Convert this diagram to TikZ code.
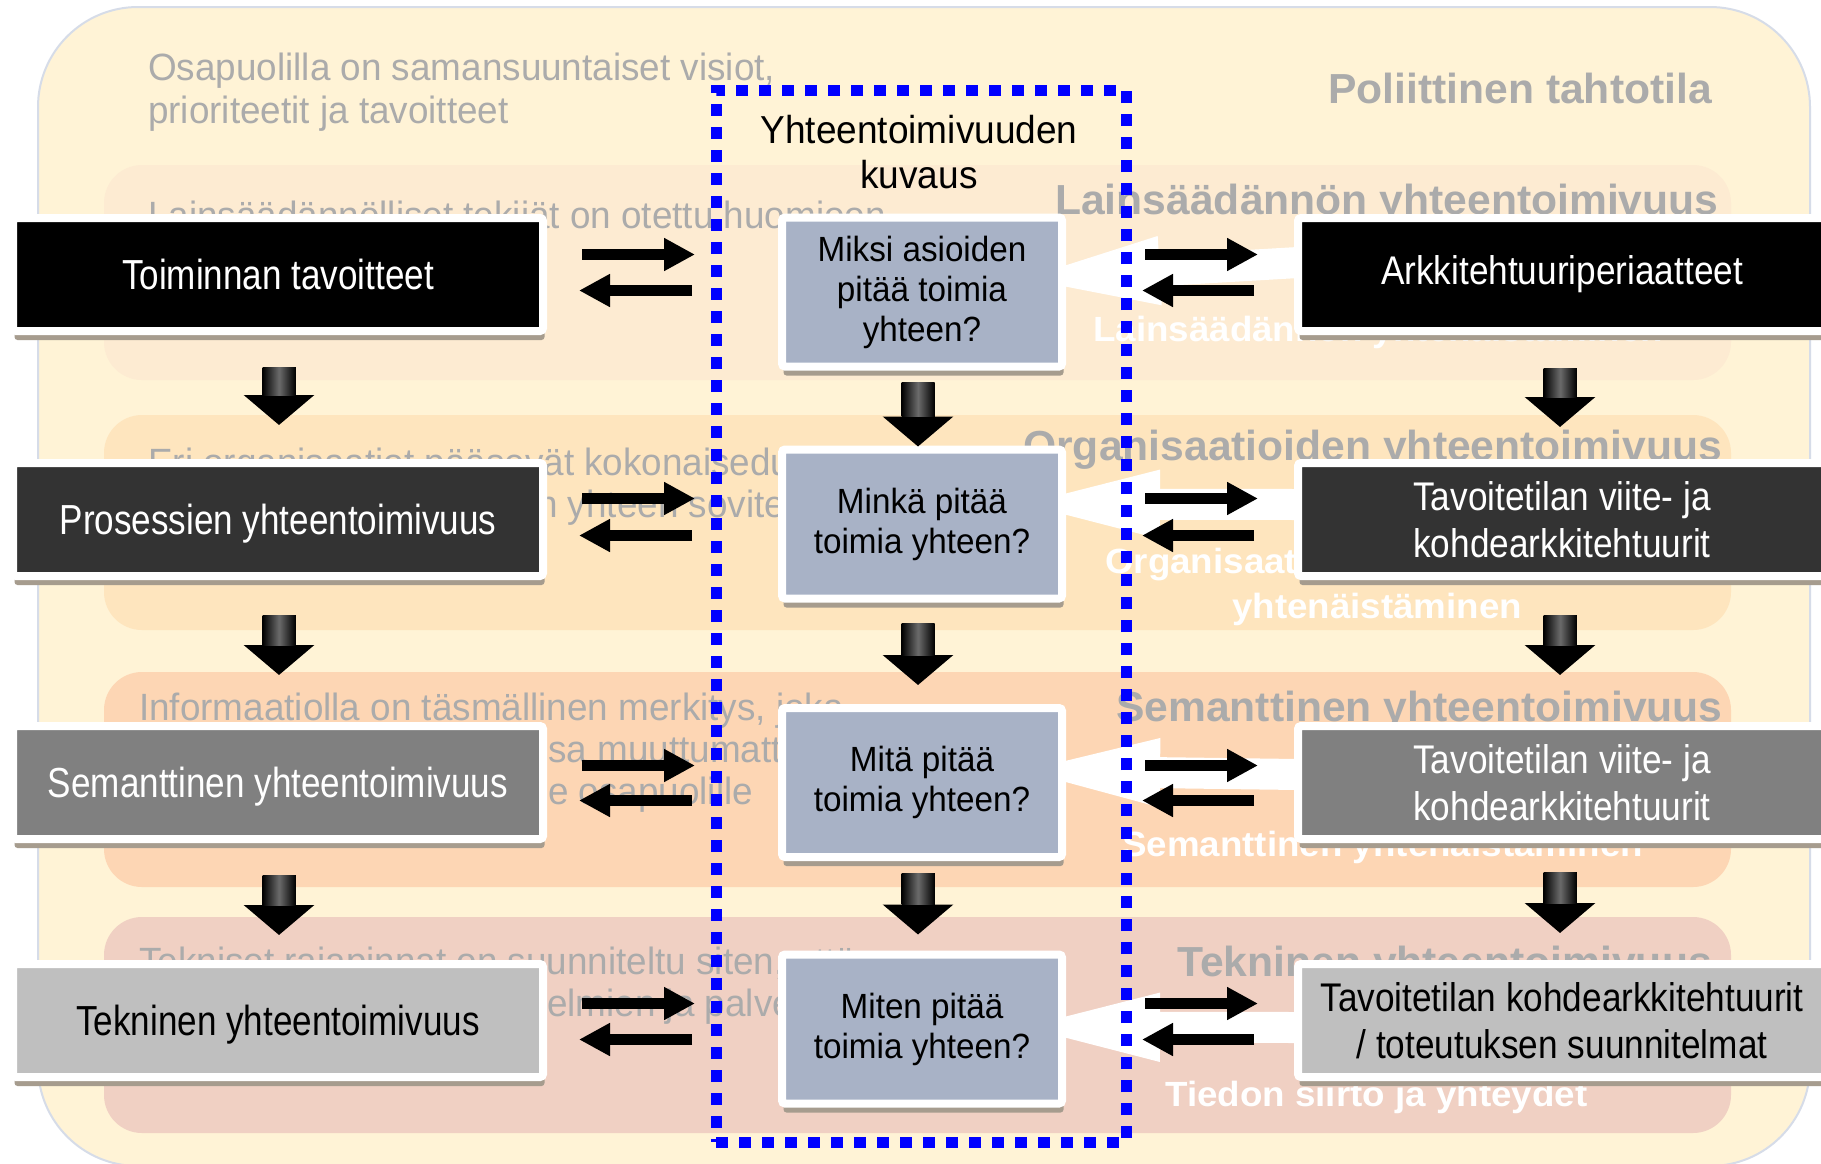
\documentclass[tikz,border=0pt]{standalone}
\usepackage{fontspec}
\setmainfont{Liberation Sans}
\newfontfamily\fLeft[FakeStretch=0.835]{Liberation Sans}
\newfontfamily\fRight[FakeStretch=0.88]{Liberation Sans}
\newfontfamily\fMid[FakeStretch=0.95]{Liberation Sans}
\newfontfamily\fGray[FakeStretch=0.97]{Liberation Sans}
\newfontfamily\fGrayB[FakeStretch=1.015]{Liberation Sans}
\newfontfamily\fWhite[FakeStretch=1.05]{Liberation Sans}
\usetikzlibrary{arrows.meta,calc,shadows}
\pgfdeclarelayer{back}
\pgfdeclarelayer{mid}
\pgfsetlayers{back,mid,main}
\definecolor{bgc}{HTML}{FFF3D6}
\definecolor{bgborder}{HTML}{D6DCE8}
\definecolor{bandA}{HTML}{FDEBD2}
\definecolor{bandB}{HTML}{FEE5BE}
\definecolor{bandC}{HTML}{FDD6B4}
\definecolor{bandD}{HTML}{F0D0C3}
\definecolor{midc}{HTML}{A8B2C6}
\definecolor{darkc}{HTML}{333333}
\definecolor{medc}{HTML}{808080}
\definecolor{lightc}{HTML}{BFBFBF}
\definecolor{txtgray}{HTML}{ABABAB}
\definecolor{shadowc}{HTML}{A69C8E}
\definecolor{dotblue}{HTML}{0000FF}
\begin{document}
\begin{tikzpicture}[x=1pt,y=-1pt,
  boxbase/.style={draw=white, line width=8pt, rounded corners=3pt, inner sep=0pt, outer sep=0pt, align=center,
    drop shadow={shadow xshift=1.5pt, shadow yshift=-9pt, fill=shadowc, opacity=1}},
  lbox/.style={boxbase, minimum width=530pt, minimum height=113pt, text=white,
    text height=30pt, text depth=0pt, font={\fLeft\fontsize{42}{48}\selectfont}},
  mbox/.style={boxbase, fill=midc, minimum width=280pt, minimum height=149pt, text=black,
    font={\fMid\fontsize{35}{40}\selectfont}},
  rbox/.style={boxbase, minimum width=528pt, minimum height=113pt, text=white,
    font={\fRight\fontsize{40}{47}\selectfont}},
  titletxt/.style={align=center, inner sep=0pt, text=black, font={\fMid\fontsize{39}{45}\selectfont}},
  gtxt/.style={anchor=base west, inner sep=0pt, text=txtgray, font={\fGray\fontsize{38}{42}\selectfont}},
  gbold/.style={anchor=base west, inner sep=0pt, text=txtgray, font={\fGrayB\bfseries\fontsize{42}{46}\selectfont}},
  wbold/.style={anchor=base west, inner sep=0pt, text=white, font={\fWhite\bfseries\fontsize{35}{40}\selectfont}},
  barrow/.style={line width=11pt, black, -{Triangle[length=31pt,width=31pt]}},
  darrow/.style={line width=33pt, black, -{Triangle[length=30pt,width=69pt]}},
  dshade/.style={left color=black, right color=black, middle color=black!58},
  warrow/.style={line width=31pt, white, -{Triangle[length=160pt,width=58pt]}},
  dotframe/.style={draw=dotblue, line width=11pt, dash pattern=on 12pt off 11pt, minimum width=410pt, minimum height=1052pt, inner sep=0pt, outer sep=0pt}
]
\useasboundingbox (0,0) rectangle (1821,1163);

\begin{pgfonlayer}{back}
  \fill[white] (0,0) rectangle (1821,1163);
  \path[fill=bgc, draw=bgborder, line width=2pt, rounded corners=100pt] (38,7) rectangle (1810,1166);
  \fill[bandA, rounded corners=38pt] (104,165) rectangle (1731,380);
  \fill[bandB, rounded corners=38pt] (104,415) rectangle (1731,630);
  \fill[bandC, rounded corners=38pt] (104,672) rectangle (1731,887);
  \fill[bandD, rounded corners=38pt] (104,917) rectangle (1731,1133);
  % faded description texts
  \node[gtxt] (g1) at (148,80) {Osapuolilla on samansuuntaiset visiot,};
  \node[gtxt] (g2) at (148,123) {prioriteetit ja tavoitteet};
  \node[gtxt] (g3) at (148,228) {Lainsäädännölliset tekijät on otettu huomioon};
  \node[gtxt] (g4) at (148,475) {Eri organisaatiot pääsevät kokonaisedun};
  \node[gtxt] (g5) at (537,517) {n yhteen sovitettu};
  \node[gtxt] (g6) at (139,720) {Informaatiolla on täsmällinen merkitys, joka};
  \node[gtxt] (g7) at (548,762) {sa muuttumattomana};
  \node[gtxt] (g8) at (548,804) {e osapuolille};
  \node[gtxt] (g9) at (139,974) {Tekniset rajapinnat on suunniteltu siten, että};
  \node[gtxt] (g10) at (547,1016) {elmien ja palvelujen};
  % level titles
  \node[gbold] (p1) at (1328,103) {Poliittinen tahtotila};
  \node[gbold] (p2) at (1055,214) {Lainsäädännön yhteentoimivuus};
  \node[gbold] (p3) at (1023,460) {Organisaatioiden yhteentoimivuus};
  \node[gbold] (p4) at (1116,721) {Semanttinen yhteentoimivuus};
  \node[gbold] (p5) at (1177,976) {Tekninen yhteentoimivuus};
  \node[wbold] (w1) at (1093,341) {Lainsäädännön yhtenäistäminen};
  \node[wbold] (w2) at (1105,573) {Organisaatioiden};
  \node[wbold] (w3) at (1232,618) {yhtenäistäminen};
  \node[wbold] (w4) at (1122,856) {Semanttinen yhtenäistäminen};
  \node[wbold] (w5) at (1165,1106) {Tiedon siirto ja yhteydet};
\end{pgfonlayer}

% title
\node[titletxt] (title) at (919,152) {Yhteentoimivuuden\\kuvaus};

% left boxes
\node[lbox, fill=black] (L1) at (278,274.5) {Toiminnan tavoitteet};
\node[lbox, fill=darkc] (L2) at (278,519.5) {Prosessien yhteentoimivuus};
\node[lbox, fill=medc] (L3) at (278,782.5) {Semanttinen yhteentoimivuus};
\node[lbox, fill=lightc, text=black] (L4) at (278,1020.5) {Tekninen yhteentoimivuus};

% middle boxes
\node[mbox] (M1) at (922,292) {Miksi asioiden\\pitää toimia\\yhteen?};
\node[mbox] (M2) at (922,524) {Minkä pitää\\toimia yhteen?};
\node[mbox] (M3) at (922,782.5) {Mitä pitää\\toimia yhteen?};
\node[mbox] (M4) at (922,1029) {Miten pitää\\toimia yhteen?};

% right boxes
\node[rbox, fill=black] (R1) at (1562,274.5) {Arkkitehtuuriperiaatteet};
\node[rbox, fill=darkc] (R2) at (1562,519.5) {Tavoitetilan viite- ja\\kohdearkkitehtuurit};
\node[rbox, fill=medc] (R3) at (1562,782.5) {Tavoitetilan viite- ja\\kohdearkkitehtuurit};
\node[rbox, fill=lightc, text=black] (R4) at (1562,1020.5) {Tavoitetilan kohdearkkitehtuurit\\/ toteutuksen suunnitelmat};

% dotted frame
\node[dotframe] (fr) at (921,616) {};

% white arrows behind the boxes
\begin{pgfonlayer}{mid}
  \draw[warrow] ($(R1.west)+(0,-12)$) -- ($(M1.east)+(-62,-12)$);
  \draw[warrow] ($(R2.west)+(0,-15)$) -- ($(M2.east)+(-62,-20)$);
  \draw[warrow] ($(R3.west)+(0,-8)$) -- ($(M3.east)+(-62,-12)$);
  \draw[warrow] ($(R4.west)+(0,7)$) -- ($(M4.east)+(-62,-2)$);
\end{pgfonlayer}

% black double arrows
\foreach \l/\r/\u/\d in {L1/R1/-20/16, L2/R2/-21/16, L3/R3/-17/18, L4/R4/-17/19}{
  \draw[barrow] ($(\l.east)+(39,\u)$) -- ($(\l.east -| fr.west)+(-21,\u)$);
  \draw[barrow] ($(\l.east -| fr.west)+(-24,\d)$) -- ($(\l.east)+(36,\d)$);
  \draw[barrow] ($(\r.west -| fr.east)+(19,\u)$) -- ($(\r.west)+(-40,\u)$);
  \draw[barrow] ($(\r.west)+(-44,\d)$) -- ($(\r.west -| fr.east)+(16,\d)$);
}

% down arrows (with a soft sheen on the shaft)
\foreach \a/\b/\dx/\s/\e in {L1/L2/1/36/38, L2/L3/1/39/51, L3/L4/1/36/29,
    M1/M2/-4/16/3, M2/M3/-4/25/23, M3/M4/-4/16/20,
    R1/R2/-2/37/36, R2/R3/-2/39/51, R3/R4/-2/33/31}{
  \draw[darrow] ($(\a.south)+(\dx,\s)$) -- ($(\b.north)+(\dx,-\e)$);
  \shade[dshade] ($(\a.south)+(\dx-16.5,\s)$) rectangle ($(\b.north)+(\dx+16.5,-\e-30)$);
}
\end{tikzpicture}
\end{document}
